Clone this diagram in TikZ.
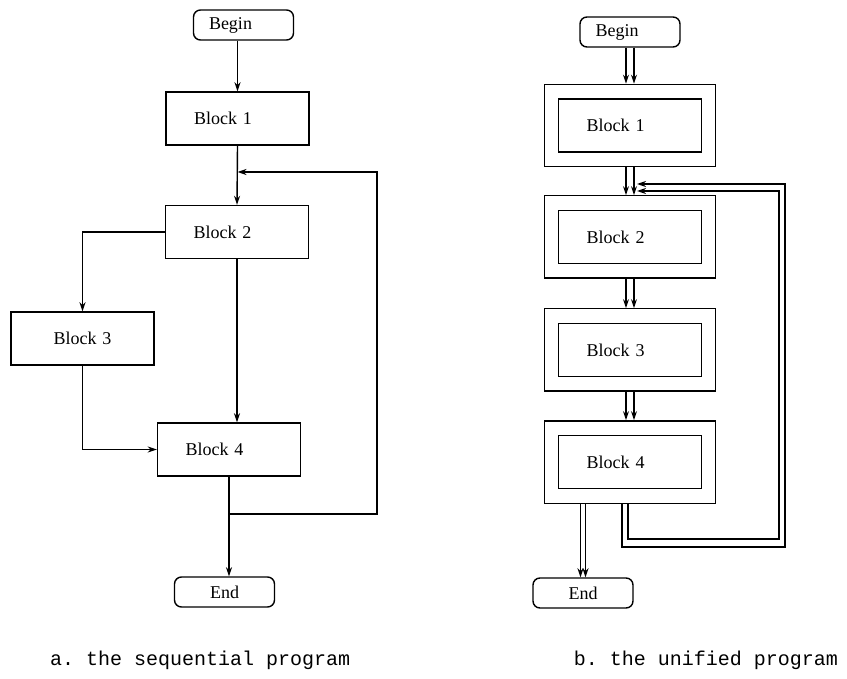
\documentclass[tikz,border=0pt]{standalone}
\usepackage{fontspec}
\setmainfont{Liberation Serif}
\setmonofont{Liberation Mono}
\usetikzlibrary{fit,calc,arrows.meta}

\tikzstyle{block} = [rectangle, draw, line width=1.4pt, fill=white, minimum width=143pt, minimum height=53pt, text width=87pt, align=left, inner sep=0pt, font=\fontsize{18}{21}\selectfont]
\tikzstyle{frame} = [rectangle, draw, line width=1.4pt, inner xsep=13.5pt, inner ysep=14pt]
\tikzstyle{term} = [rectangle, draw, line width=1.4pt, rounded corners=7pt, minimum width=100pt, minimum height=30pt, text width=69pt, align=left, inner sep=0pt, font=\fontsize{18}{21}\selectfont]
\tikzstyle{arrow} = [line width=1.4pt, ->, >={Stealth[length=9pt,width=6pt]}]
\tikzstyle{caption} = [font=\ttfamily\fontsize{20}{23}\selectfont, inner sep=0pt]

\begin{document}
\begin{tikzpicture}[x=1pt, y=-1pt]
    \useasboundingbox (0,0) rectangle (847,679);

    % a. sequential
    \node (begin1) [term] at (243.5,25) {Begin};
    \node (b1) [block] at (237.5,118.5) {Block 1};
    \node (b2) [block] at (237,232) {Block 2};
    \node (b3) [block, align=center] at (82.5,338.5) {Block 3};
    \node (b4) [block] at (229,449.5) {Block 4};
    \node (end1) [term, align=center] at (224.5,592) {End};
    \coordinate (join1) at (237.5,172);
    \coordinate (split1) at (229,514);

    \draw [arrow] (b1.north |- begin1.south) -- (b1.north);
    \draw [arrow] (b1.south) -- (b2.north);
    \draw [arrow] (b2.west) -| (b3.north);
    \draw [arrow] (b2.south) -- (b2.south |- b4.north);
    \draw [arrow] (b3.south) |- (b4.west);
    \draw [arrow] (b4.south) -- (b4.south |- end1.north);
    \draw [arrow] (split1) -- ++(148,0) |- (join1);

    % b. unified
    \node (begin2) [term] at (630,32) {Begin};
    \node (ib1) [block] at (630,125.5) {Block 1};
    \node (ib2) [block] at (630,237) {Block 2};
    \node (ib3) [block] at (630,350) {Block 3};
    \node (ib4) [block] at (630,462) {Block 4};
    \node (o1) [frame, fit=(ib1)] {};
    \node (o2) [frame, fit=(ib2)] {};
    \node (o3) [frame, fit=(ib3)] {};
    \node (o4) [frame, fit=(ib4)] {};
    \node (end2) [term, align=center] at (583,593) {End};
    \coordinate (loopA) at (785,547);
    \coordinate (backA) at (637,184);
    \coordinate (loopB) at (779,539);
    \coordinate (backB) at (637,191);

    \foreach \s in {-4,4} {
        \draw [arrow] ([xshift=\s pt]begin2.south) -- ([xshift=\s pt]o1.north);
        \draw [arrow] ([xshift=\s pt]o1.south) -- ([xshift=\s pt]o2.north);
        \draw [arrow] ([xshift=\s pt]o2.south) -- ([xshift=\s pt]o3.north);
        \draw [arrow] ([xshift=\s pt]o3.south) -- ([xshift=\s pt]o4.north);
    }
    \foreach \s in {-2.5,2.5}
        \draw [arrow] ($(o4.south -| end2.north)+(\s,0)$) -- ([xshift=\s pt]end2.north);
    \draw [arrow] ([xshift=-8pt]o4.south) |- (loopA) |- (backA);
    \draw [arrow] ([xshift=-2pt]o4.south) |- (loopB) |- (backB);

    \node (capa) [caption, anchor=west] at (50,660) {a. the sequential program};
    \node (capb) [caption, anchor=east] at (838,660) {b. the unified program};
\end{tikzpicture}
\end{document}
